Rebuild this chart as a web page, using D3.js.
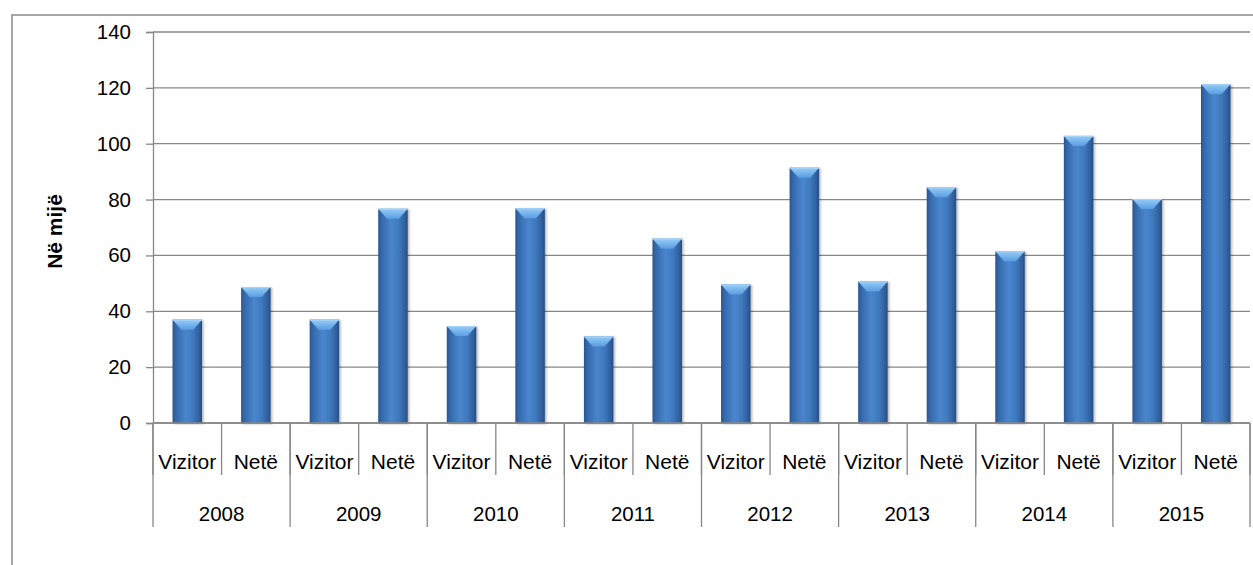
<!DOCTYPE html>
<html>
<head>
<meta charset="utf-8">
<script src="https://cdn.jsdelivr.net/npm/d3@7"></script>
<style>
  html, body { margin: 0; padding: 0; background: #fff; }
  svg { display: block; }
  text { font-family: "Liberation Sans", Arial, sans-serif; fill: #000; }
</style>
</head>
<body>
<svg id="chart" width="1253" height="565"></svg>
<script>
const years = ["2008", "2009", "2010", "2011", "2012", "2013", "2014", "2015"];
const seriesNames = ["Vizitor", "Netë"];
const vizitor = [37, 37, 34.7, 31, 49.6, 50.7, 61.5, 80.2];
const nete = [48.7, 76.7, 76.9, 66, 91.4, 84.4, 102.8, 121.3];
const yTicks = [0, 20, 40, 60, 80, 100, 120, 140];
const yTitle = "Në mijë";

const rows = [];
years.forEach((yr, i) => {
  rows.push({ year: yr, name: seriesNames[0], value: vizitor[i], key: yr + "|" + seriesNames[0] });
  rows.push({ year: yr, name: seriesNames[1], value: nete[i], key: yr + "|" + seriesNames[1] });
});

const svg = d3.select("#chart");
const mLeft = 153, mRight = 1250, mTop = 32, mBottom = 423;
const gridColor = "#878787";

const defs = svg.append("defs");
const grad = defs.append("linearGradient").attr("id", "barGrad").attr("x1", "0").attr("x2", "1").attr("y1", "0").attr("y2", "0");
grad.append("stop").attr("offset", "0%").attr("stop-color", "#2a5690");
grad.append("stop").attr("offset", "12%").attr("stop-color", "#3569ad");
grad.append("stop").attr("offset", "45%").attr("stop-color", "#4a86cd");
grad.append("stop").attr("offset", "70%").attr("stop-color", "#3f78bd");
grad.append("stop").attr("offset", "90%").attr("stop-color", "#30609f");
grad.append("stop").attr("offset", "100%").attr("stop-color", "#244d84");
const tgrad = defs.append("linearGradient").attr("id", "topGrad").attr("x1", "0").attr("x2", "0").attr("y1", "0").attr("y2", "1");
tgrad.append("stop").attr("offset", "0%").attr("stop-color", "#95cdf7");
tgrad.append("stop").attr("offset", "100%").attr("stop-color", "#5a9de2");
const sh = defs.append("filter").attr("id", "shadow").attr("x", "-20%").attr("y", "-5%").attr("width", "150%").attr("height", "115%");
sh.append("feDropShadow").attr("dx", 1.5).attr("dy", 1).attr("stdDeviation", 1.2).attr("flood-color", "#000").attr("flood-opacity", 0.3);

// outer chart border
svg.append("path")
  .attr("d", `M12,570 L12,15 L1260,15`)
  .attr("fill", "none").attr("stroke", "#8a8a8a").attr("stroke-width", 1.5);

const yScale = d3.scaleLinear().domain([0, 140]).range([mBottom, mTop]);
const xScale = d3.scaleBand().domain(rows.map(d => d.key)).range([mLeft, mRight]).padding(0);
const xYear = d3.scaleBand().domain(years).range([mLeft, mRight]).padding(0);

// gridlines
svg.append("g").selectAll("line").data(yTicks).join("line")
  .attr("x1", mLeft).attr("x2", mRight)
  .attr("y1", d => yScale(d)).attr("y2", d => yScale(d))
  .attr("stroke", gridColor).attr("stroke-width", 1.3);

// y axis
const yAxis = svg.append("g").attr("transform", `translate(${mLeft},0)`)
  .call(d3.axisLeft(yScale).tickValues(yTicks).tickSize(7).tickPadding(15).tickFormat(d3.format("d")));
yAxis.select(".domain").attr("stroke", gridColor).attr("stroke-width", 1.3);
yAxis.selectAll(".tick line").attr("stroke", gridColor).attr("stroke-width", 1.3);
yAxis.selectAll(".tick text").style("font-size", "20.5px").attr("font-family", "Liberation Sans, Arial, sans-serif").attr("fill", "#000");

// y title
svg.append("text")
  .attr("transform", `translate(62,${(mTop + mBottom) / 2 + 4}) rotate(-90)`)
  .attr("text-anchor", "middle")
  .style("font-size", "21px").style("font-weight", "bold")
  .text(yTitle);

// bars
const bw = xScale.bandwidth() * 0.43;
const bars = svg.append("g").selectAll("g").data(rows).join("g")
  .attr("filter", "url(#shadow)");
bars.append("rect")
  .attr("x", d => xScale(d.key) + (xScale.bandwidth() - bw) / 2)
  .attr("y", d => yScale(d.value))
  .attr("width", bw)
  .attr("height", d => mBottom - yScale(d.value))
  .attr("fill", "url(#barGrad)");
bars.append("path")
  .attr("d", d => {
    const x0 = xScale(d.key) + (xScale.bandwidth() - bw) / 2, x1 = x0 + bw, t = yScale(d.value), h = 10;
    return `M${x0},${t} L${x1},${t} L${x1 - bw * 0.3},${t + h} L${x0 + bw * 0.3},${t + h} Z`;
  })
  .attr("fill", "url(#topGrad)");
bars.append("line")
  .attr("x1", d => xScale(d.key) + (xScale.bandwidth() - bw) / 2)
  .attr("x2", d => xScale(d.key) + (xScale.bandwidth() + bw) / 2)
  .attr("y1", d => yScale(d.value) + 0.5).attr("y2", d => yScale(d.value) + 0.5)
  .attr("stroke", "#a9d4f7").attr("stroke-width", 1);

// x axis baseline
svg.append("line").attr("x1", mLeft).attr("x2", mRight).attr("y1", mBottom).attr("y2", mBottom)
  .attr("stroke", gridColor).attr("stroke-width", 1.3);

// category separators (inner)
const innerSep = rows.map(d => xScale(d.key)).concat([mRight]);
svg.append("g").selectAll("line").data(innerSep).join("line")
  .attr("x1", d => d).attr("x2", d => d)
  .attr("y1", mBottom).attr("y2", 475)
  .attr("stroke", gridColor).attr("stroke-width", 1.3);
// year separators
const yearSep = years.map(d => xYear(d)).concat([mRight]);
svg.append("g").selectAll("line").data(yearSep).join("line")
  .attr("x1", d => d).attr("x2", d => d)
  .attr("y1", mBottom).attr("y2", 527)
  .attr("stroke", gridColor).attr("stroke-width", 1.3);

// category labels
svg.append("g").selectAll("text").data(rows).join("text")
  .attr("x", d => xScale(d.key) + xScale.bandwidth() / 2)
  .attr("y", 469)
  .attr("text-anchor", "middle")
  .style("font-size", "21px")
  .text(d => d.name);

// year labels
svg.append("g").selectAll("text").data(years).join("text")
  .attr("x", d => xYear(d) + xYear.bandwidth() / 2)
  .attr("y", 521)
  .attr("text-anchor", "middle")
  .style("font-size", "20.5px")
  .text(d => d);
</script>
</body>
</html>
